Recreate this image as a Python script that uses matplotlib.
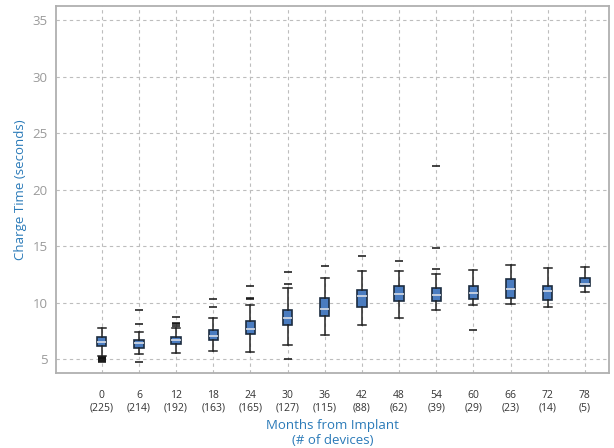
import matplotlib.pyplot as plt

plt.rcParams['font.family'] = ['Open Sans', 'DejaVu Sans']

# Valores
months = [0, 6, 12, 18, 24, 30, 36, 42, 48, 54, 60, 66, 72, 78]
devices = [225, 214, 192, 163, 165, 127, 115, 88, 62, 39, 29, 23, 14, 5]
q1 = [6.2, 6.03, 6.32, 6.67, 7.2, 8.0, 8.79, 9.64, 10.2, 10.17, 10.3, 10.41, 10.26, 11.44]
median = [6.55, 6.4, 6.67, 7.06, 7.7, 8.62, 9.44, 10.56, 10.76, 10.7, 10.85, 11.18, 11.0, 11.62]
q3 = [6.95, 6.72, 6.97, 7.56, 8.38, 9.38, 10.44, 11.14, 11.5, 11.27, 11.44, 12.06, 11.47, 12.2]
whisker_low = [5.3, 5.47, 5.53, 5.76, 5.67, 6.24, 7.12, 8.0, 8.62, 9.38, 9.82, 9.9, 9.59, 10.94]
whisker_high = [7.79, 7.41, 7.79, 8.67, 9.82, 11.29, 12.18, 12.79, 12.82, 12.56, 12.94, 13.35, 13.09, 13.2]
outliers = [
    [5.2, 5.15, 5.1, 5.05, 4.95, 4.85, 4.75],
    [8.14, 9.33, 4.76],
    [7.94, 8.09, 8.23, 8.7],
    [9.6, 10.3],
    [10.3, 10.4, 11.47],
    [11.7, 12.68, 5.0],
    [13.26],
    [14.14],
    [13.68],
    [13.03, 14.8, 22.06],
    [7.56],
    [],
    [],
    [],
]

stats = []
for i in range(len(months)):
    stats.append({'med': median[i], 'q1': q1[i], 'q3': q3[i],
                  'whislo': whisker_low[i], 'whishi': whisker_high[i],
                  'fliers': outliers[i]})

fig = plt.figure(figsize=(6.14, 4.48), dpi=100)
ax = fig.add_axes([0.0912, 0.1674, 0.9007, 0.8192])

ax.bxp(stats, positions=range(len(months)), widths=0.25, patch_artist=True,
       boxprops=dict(facecolor='#4a7cc0', edgecolor='#1c2c40', linewidth=1.2),
       medianprops=dict(color='#d8dde6', linewidth=1.2),
       whiskerprops=dict(color='#222222', linewidth=1.1),
       capprops=dict(color='#222222', linewidth=1.1),
       capwidths=0.22,
       flierprops=dict(marker='_', markersize=6, markeredgecolor='#111111', markeredgewidth=1.1))

ax.set_xlim(-1.23, 13.65)
ax.set_ylim(3.79, 36.24)
ax.set_yticks([5, 10, 15, 20, 25, 30, 35])
ax.set_xticks(range(len(months)))
ax.set_xticklabels([f'{m}\n({n})' for m, n in zip(months, devices)], fontsize=7.5, color='#333333')
ax.tick_params(axis='y', labelsize=9.5, labelcolor='#9a9a9a', length=0, pad=6)
ax.tick_params(axis='x', length=0, pad=12)

ax.grid(True, color='#bdbdbd', linestyle=(0, (3, 3)), linewidth=0.8)
ax.set_axisbelow(True)
for s in ax.spines.values():
    s.set_color('#b0b0b0')
    s.set_linewidth(1.3)

ax.set_ylabel('Charge Time (seconds)', fontsize=9.5, color='#2a7ab8', labelpad=4)
ax.set_xlabel('Months from Implant\n(# of devices)', fontsize=9.5, color='#2a7ab8', labelpad=4)

fig.savefig('out.png', dpi=100)
